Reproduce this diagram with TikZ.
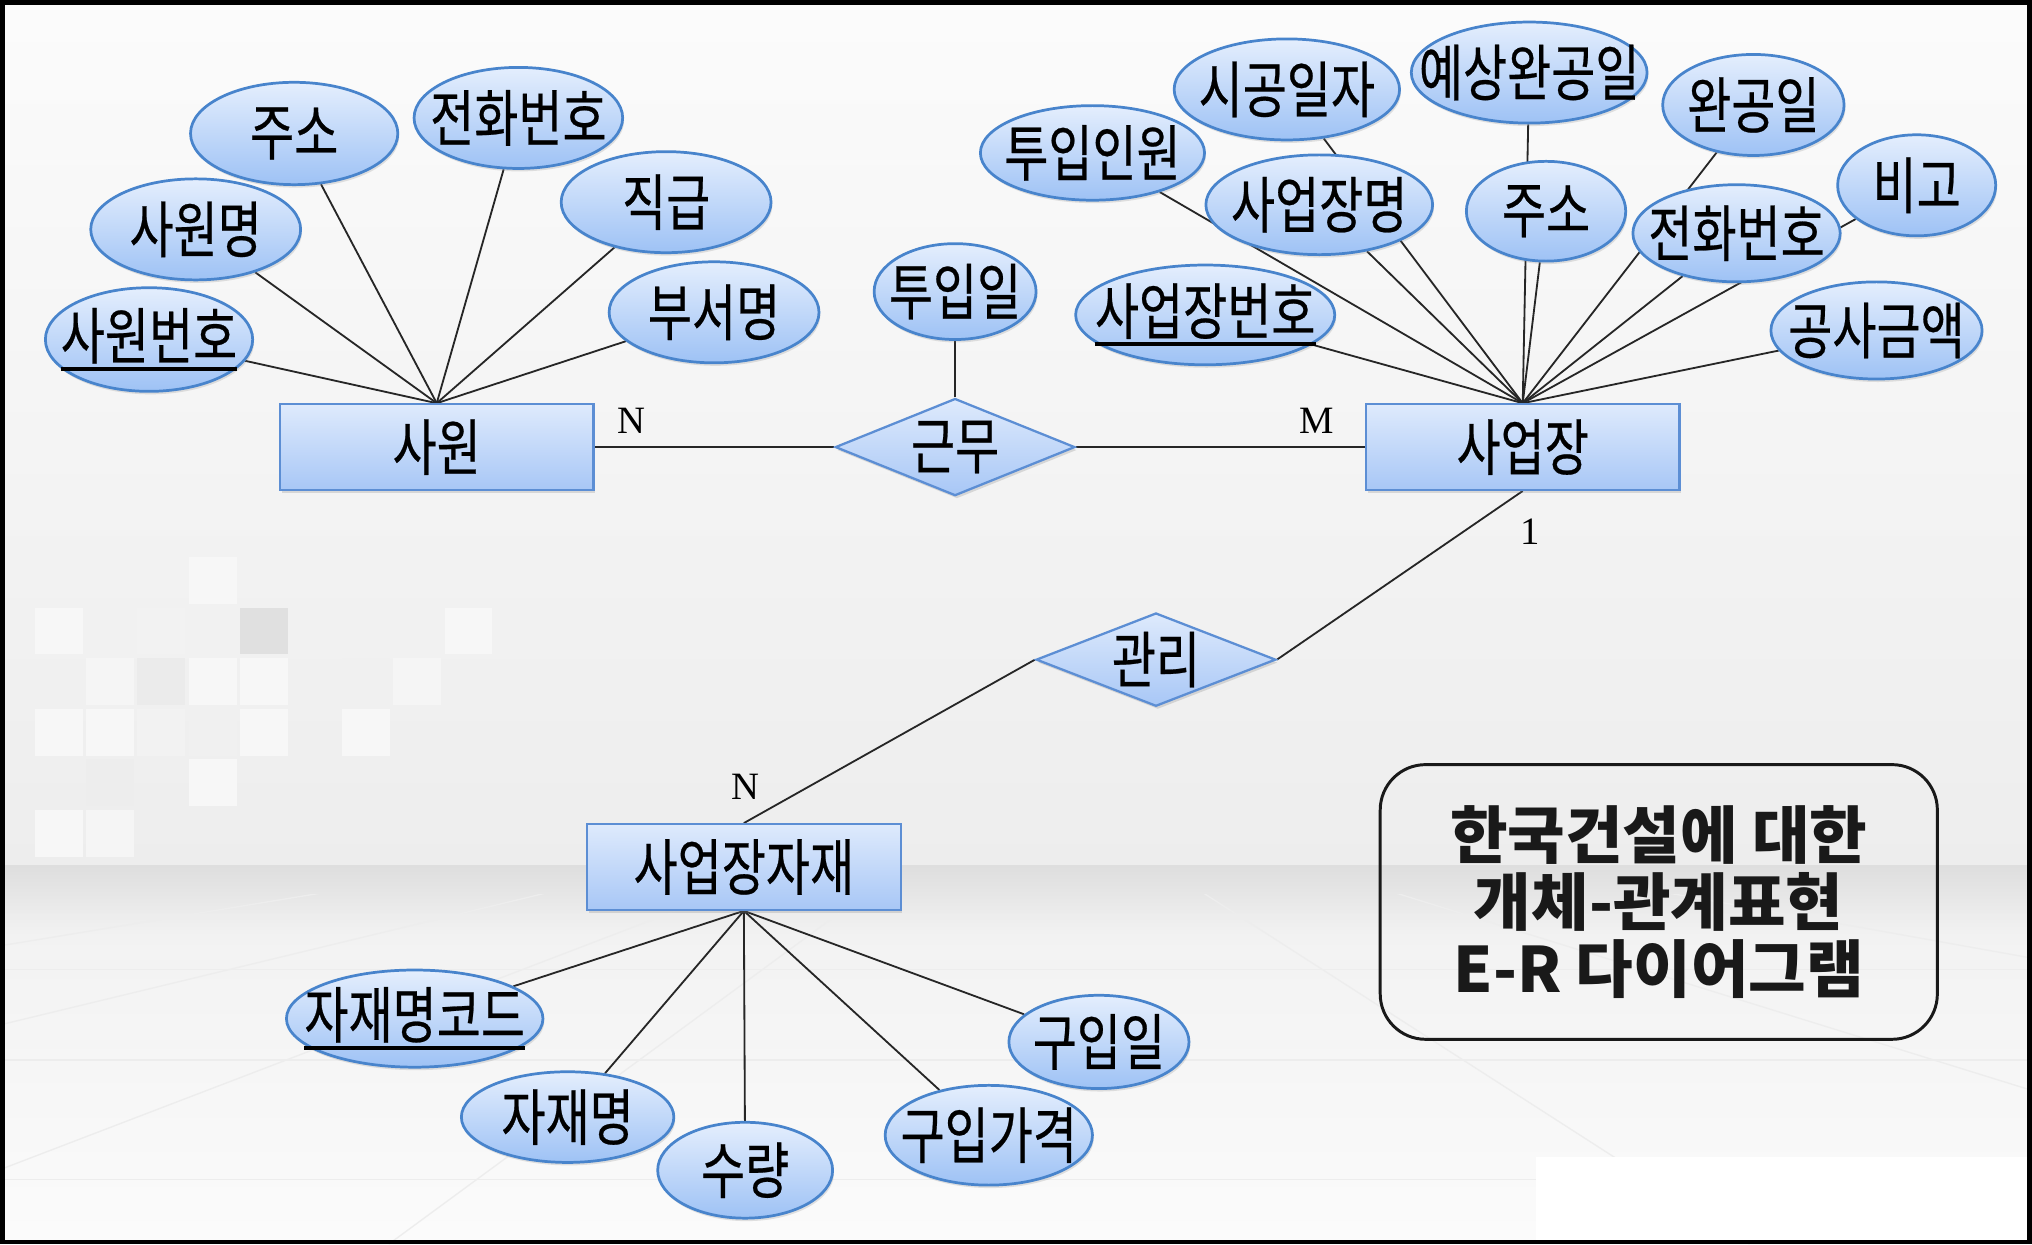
\documentclass[tikz,border=0pt]{standalone}
\usepackage{fontspec}
\setmainfont{Liberation Serif}
\newfontfamily\kr[FakeStretch=0.78,FakeBold=0.4]{Noto Sans CJK KR}
\newfontfamily\krt{Noto Sans CJK KR}
\usetikzlibrary{shapes.geometric,shadows}
\pgfdeclarelayer{backdrop}
\pgfdeclarelayer{lines}
\pgfsetlayers{backdrop,lines,main}
\definecolor{attrTop}{RGB}{228,238,253}
\definecolor{attrBot}{RGB}{158,194,245}
\definecolor{attrBorder}{RGB}{72,132,204}
\definecolor{entTop}{RGB}{222,234,252}
\definecolor{entBot}{RGB}{168,199,246}
\definecolor{entBorder}{RGB}{92,142,212}
\newcommand\keyul[1]{\setbox0=\hbox{#1}\rlap{\copy0}\rule[-0.2em]{\wd0}{1.9pt}}
\newcommand\zw[1]{\makebox[0pt][c]{#1}}
\tikzset{
  krfont/.style={font=\kr\fontsize{27}{30}\selectfont},
  attr/.style={ellipse, draw=attrBorder, line width=1.2pt, top color=attrTop, bottom color=attrBot,
    inner sep=0pt, krfont, drop shadow={shadow xshift=0.6pt, shadow yshift=-1.3pt, opacity=0.22}},
  ent/.style={rectangle, draw=entBorder, line width=1pt, top color=entTop, bottom color=entBot,
    minimum width=4.84cm, minimum height=1.32cm, inner sep=0pt, krfont,
    drop shadow={shadow xshift=0.8pt, shadow yshift=-1.3pt, opacity=0.25}},
  rel/.style={diamond, aspect=2.5, draw=entBorder, line width=1pt, top color=entTop, bottom color=entBot,
    inner sep=0pt, krfont, drop shadow={shadow xshift=0.8pt, shadow yshift=-1.3pt, opacity=0.25}},
  conn/.style={draw=black!85, line width=0.8pt},
  card/.style={font=\fontsize{17}{20}\selectfont, inner sep=0pt},
  titlebox/.style={draw=black!90, line width=1.3pt, rounded corners=0.7cm, minimum width=8.6cm,
    minimum height=4.24cm, align=center, font=\krt\bfseries\fontsize{27.5}{29.5}\selectfont, text=black!90},
  floorline/.style={draw=black!7, line width=0.6pt}
}
\begin{document}
\begin{tikzpicture}[x=0.02cm,y=-0.02cm]
\useasboundingbox (0,0) rectangle (1568,960);
\begin{pgfonlayer}{backdrop}
  \fill[top color=black!1.5, bottom color=black!7] (0,0) rectangle (1568,668);
  \fill[top color=black!13, bottom color=black!5] (0,668) rectangle (1568,722);
  \fill[top color=black!5, bottom color=black!1.5] (0,722) rectangle (1568,960);
  % pixel squares
  \foreach \c/\r/\s in {3/0/3, 0/1/3, 2/1/5, 4/1/12, 8/1/3, 1/2/4, 2/2/8, 3/2/3, 4/2/3, 6/2/6, 7/2/4,
                         0/3/3, 1/3/3, 2/3/5, 3/3/6, 4/3/3, 6/3/3, 1/4/7, 3/4/3, 0/5/3, 1/5/4}{
    \fill[black!\s] ({27+39.5*\c},{430+39*\r}) rectangle ++(37,36);
  }
  % floor lines
  \begin{scope}
    \clip (0,690) rectangle (1568,960);
    \foreach \y in {706,748,818,910}{ \draw[floorline] (0,\y) -- (1568,\y); }
    \foreach \x in {-1400,-700,-150,300,1350,1950,2800}{ \draw[floorline] (790,600) -- (\x,960); }
  \end{scope}
  \fill[white] (1185,893) rectangle (1568,960);
  \draw[line width=0.07cm] (1.75,1.75) rectangle (1566.25,958.25);
\end{pgfonlayer}

% entities and relationships
\node[ent] (e1) at (337,345) {사원};
\node[ent] (e2) at (1175,345) {사업장};
\node[ent] (e3) at (574,669) {사업장자재};
\node[rel, minimum width=3.7cm, minimum height=1.5cm] (r1) at (737,345) {\zw{근무}};
\node[rel, minimum width=3.7cm, minimum height=1.44cm] (r2) at (892,509) {\zw{관리}};

% attributes of 사원
\node[attr, minimum width=3.2cm, minimum height=1.6cm] (a1) at (115,262) {\zw{\keyul{사원번호}}};
\node[attr, minimum width=3.24cm, minimum height=1.56cm] (a2) at (151,177) {\zw{사원명}};
\node[attr, minimum width=3.2cm, minimum height=1.58cm] (a3) at (227,103) {\zw{주소}};
\node[attr, minimum width=3.22cm, minimum height=1.56cm] (a4) at (400,91) {\zw{전화번호}};
\node[attr, minimum width=3.24cm, minimum height=1.56cm] (a5) at (514,156) {\zw{직급}};
\node[attr, minimum width=3.24cm, minimum height=1.56cm] (a6) at (551,241) {\zw{부서명}};
% attribute of 근무
\node[attr, minimum width=2.5cm, minimum height=1.48cm] (t1) at (737,225) {\zw{투입일}};
% attributes of 사업장
\node[attr, minimum width=3.46cm, minimum height=1.46cm] (b1) at (843,118) {\zw{투입인원}};
\node[attr, minimum width=3.48cm, minimum height=1.56cm] (b2) at (993,69) {\zw{시공일자}};
\node[attr, minimum width=3.64cm, minimum height=1.56cm] (b3) at (1180,56) {\zw{예상완공일}};
\node[attr, minimum width=2.8cm, minimum height=1.56cm] (b4) at (1353,81) {\zw{완공일}};
\node[attr, minimum width=2.44cm, minimum height=1.56cm] (b5) at (1479,143) {\zw{비고}};
\node[attr, minimum width=3.5cm, minimum height=1.54cm] (b6) at (1018,158) {\zw{사업장명}};
\node[attr, minimum width=2.46cm, minimum height=1.54cm] (b7) at (1193,163) {\zw{주소}};
\node[attr, minimum width=3.2cm, minimum height=1.5cm] (b8) at (1340,180) {\zw{전화번호}};
\node[attr, minimum width=4.0cm, minimum height=1.54cm] (b9) at (930,243) {\zw{\keyul{사업장번호}}};
\node[attr, minimum width=3.26cm, minimum height=1.5cm] (b10) at (1448,255) {\zw{공사금액}};
% attributes of 사업장자재
\node[attr, minimum width=3.96cm, minimum height=1.5cm] (c1) at (320,786) {\zw{\keyul{자재명코드}}};
\node[attr, minimum width=3.28cm, minimum height=1.4cm] (c2) at (438,862) {\zw{자재명}};
\node[attr, minimum width=2.7cm, minimum height=1.48cm] (c3) at (575,903) {\zw{수량}};
\node[attr, minimum width=2.78cm, minimum height=1.44cm] (c5) at (848,804) {\zw{구입일}};
\node[attr, minimum width=3.2cm, minimum height=1.54cm] (c4) at (763,876) {\zw{구입가격}};

% cardinalities
\node[card] (n1) at (487,325) {N};
\node[card] (n2) at (1016,325) {M};
\node[card] (n3) at (1181,410) {1};
\node[card] (n4) at (575,607) {N};

% title
\node[titlebox] (title) at (1280,696) {한국건설에 대한\\개체-관계표현\\E-R 다이어그램};

% connectors
\begin{pgfonlayer}{lines}
  \draw[conn] (e1) -- (r1);
  \draw[conn] (r1) -- (e2);
  \draw[conn] (r1) -- (t1);
  \draw[conn] (e2.south) -- (r2.east);
  \draw[conn] (r2.west) -- (e3.north);
  \foreach \n in {a1,a2,a3,a4,a5,a6}{ \draw[conn] (e1.north) -- (\n); }
  \foreach \n in {b1,b2,b3,b4,b5,b6,b7,b8,b9,b10}{ \draw[conn] (e2.north) -- (\n); }
  \foreach \n in {c1,c2,c3,c4,c5}{ \draw[conn] (e3.south) -- (\n); }
\end{pgfonlayer}
\end{tikzpicture}
\end{document}
